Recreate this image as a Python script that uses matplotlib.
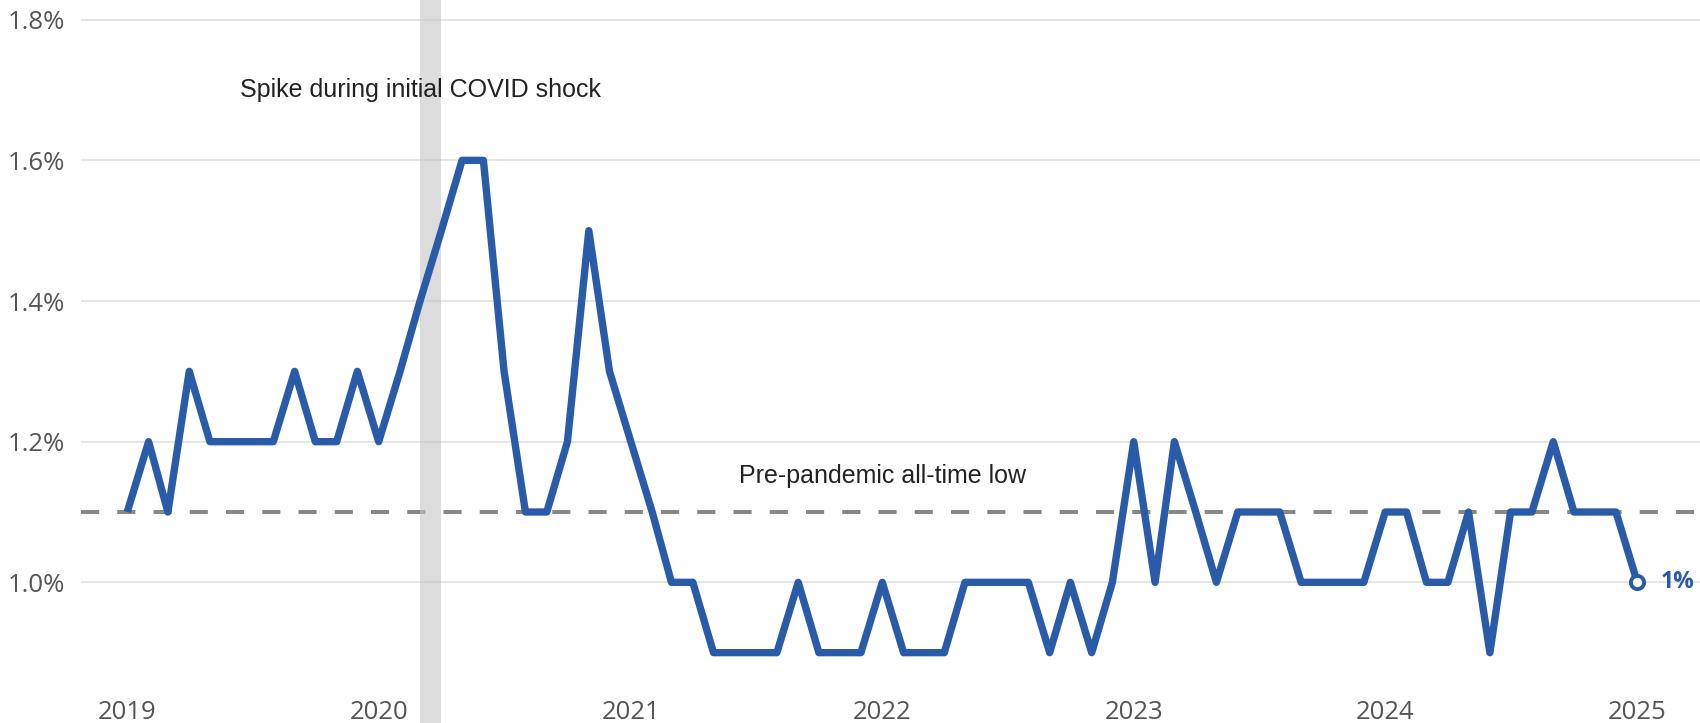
import pandas as pd
import matplotlib.pyplot as plt

# monthly values, Jan 2019 -> Jan 2025 (percent)
months = pd.date_range('2019-01-01', periods=73, freq='MS')
rate = [
    1.1, 1.2, 1.1, 1.3, 1.2, 1.2, 1.2, 1.2, 1.3, 1.2, 1.2, 1.3,  # 2019
    1.2, 1.3, 1.4, 1.5, 1.6, 1.6, 1.3, 1.1, 1.1, 1.2, 1.5, 1.3,  # 2020
    1.2, 1.1, 1.0, 1.0, 0.9, 0.9, 0.9, 0.9, 1.0, 0.9, 0.9, 0.9,  # 2021
    1.0, 0.9, 0.9, 0.9, 1.0, 1.0, 1.0, 1.0, 0.9, 1.0, 0.9, 1.0,  # 2022
    1.2, 1.0, 1.2, 1.1, 1.0, 1.1, 1.1, 1.1, 1.0, 1.0, 1.0, 1.0,  # 2023
    1.1, 1.1, 1.0, 1.0, 1.1, 0.9, 1.1, 1.1, 1.2, 1.1, 1.1, 1.1,  # 2024
    1.0,                                                         # 2025
]
pre_pandemic_low = 1.1
covid_start, covid_end = pd.Timestamp('2020-03-01'), pd.Timestamp('2020-04-01')
y_ticks = [1.0, 1.2, 1.4, 1.6, 1.8]
year_ticks = pd.to_datetime(['2019-01-01', '2020-01-01', '2021-01-01', '2022-01-01',
                             '2023-01-01', '2024-01-01', '2025-01-01'])
year_labels = ['2019', '2020', '2021', '2022', '2023', '2024', '2025']

blue = '#2a5ba8'

fig = plt.figure(figsize=(17, 7.23), dpi=100)
ax = fig.add_axes([0.0477, 0.0, 0.9523, 1.0])

# grid
for v in y_ticks:
    ax.axhline(v, color='#e0e0e0', linewidth=1.2, zorder=1)

# pre-pandemic low
ax.axhline(pre_pandemic_low, color='#888888', linewidth=2.9,
           linestyle=(0, (4.5, 4.5)), zorder=2)

# covid band
ax.axvspan(covid_start, covid_end, color='#c3c3c3', alpha=0.57, lw=0, zorder=3)

ax.plot(months, rate, color=blue, linewidth=5.3, solid_joinstyle='round',
        solid_capstyle='butt', zorder=4)
ax.plot(months[-1:], rate[-1:], marker='o', markersize=9.5, markerfacecolor='white',
        markeredgecolor=blue, markeredgewidth=2.8, linestyle='none', zorder=5)
ax.annotate('1%', (months[-1], rate[-1]), xytext=(17, 0), textcoords='offset points',
            ha='left', va='center', fontsize=16.5, fontweight='bold', color=blue,
            family='Open Sans', zorder=6)

ax.text(pd.Timestamp('2020-03-01'), 1.70, 'Spike during initial COVID shock',
        ha='center', va='center', fontsize=18, color='#222222',
        family='Liberation Sans', zorder=6)
ax.text(pd.Timestamp('2022-01-01'), 1.151, 'Pre-pandemic all-time low',
        ha='center', va='center', fontsize=18, color='#222222',
        family='Liberation Sans', zorder=6)

ax.set_xlim(pd.Timestamp('2018-10-26'), pd.Timestamp('2025-04-02'))
ax.set_ylim(0.8, 1.828)

ax.set_yticks(y_ticks, [f'{v:.1f}%' for v in y_ticks])
ax.set_xticks(year_ticks, year_labels)
ax.tick_params(axis='y', length=0, pad=11.5, labelsize=18.5, labelcolor='#555555')
ax.tick_params(axis='x', length=0, pad=-16.5, labelsize=18.5, labelcolor='#555555')
for lab in ax.get_xticklabels() + ax.get_yticklabels():
    lab.set_family('Open Sans')

for s in ax.spines.values():
    s.set_visible(False)

fig.savefig('out.png', dpi=100)
